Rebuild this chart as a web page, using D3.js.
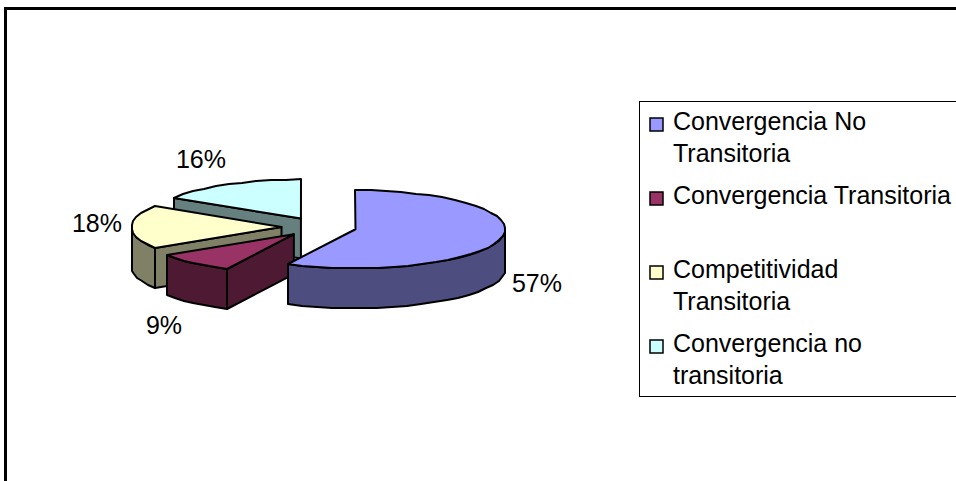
<!DOCTYPE html>
<html lang="es">
<head>
    <meta charset="UTF-8">
    <title>Convergencia</title>
    <script src="https://d3js.org/d3.v7.min.js"></script>
    <style>
        html, body { margin: 0; padding: 0; background: #fff; overflow: hidden; }
        svg { display: block; font-family: "Liberation Sans", Arial, sans-serif; }
    </style>
</head>
<body>
    <script>
        // Data
        const categories = ["Convergencia No Transitoria", "Convergencia Transitoria", "Competitividad Transitoria", "Convergencia no transitoria"];
        const values = [57.4, 8.6, 18, 16];
        const legendLines = [["Convergencia No", "Transitoria"], ["Convergencia Transitoria"], ["Competitividad", "Transitoria"], ["Convergencia no", "transitoria"]];
        const topColors = ["#9999ff", "#993366", "#ffffcc", "#ccffff"];
        const wallColors = ["#4d4d80", "#4d1933", "#808066", "#668080"];

        const width = 956, height = 481;
        const cx = 319, cy = 227, rx = 150, ry = 39, depth = 40, explode = 0.25;

        const svg = d3.select("body").append("svg")
            .attr("width", width)
            .attr("height", height);

        // Chart frame
        svg.append("rect")
            .attr("x", 5.5).attr("y", 8.5)
            .attr("width", width + 20).attr("height", height + 20)
            .attr("fill", "#fff").attr("stroke", "#000").attr("stroke-width", 3);

        const arcs = d3.pie().sort(null).value(d => d)(values);
        const total = d3.sum(values);
        const percent = d3.format(".0%");

        // Angle is clockwise from 12 o'clock, squashed into an ellipse
        const px = (c, a) => c.x + rx * Math.sin(a);
        const py = (c, a) => c.y - ry * Math.cos(a);
        const centreOf = d => {
            const mid = (d.startAngle + d.endAngle) / 2;
            return { x: cx + explode * rx * Math.sin(mid), y: cy - explode * ry * Math.cos(mid) };
        };
        const rimPoints = (c, a0, a1) => {
            const n = Math.max(1, Math.ceil(Math.abs(a1 - a0) / (Math.PI / 30)));
            return d3.range(n + 1).map(i => {
                const a = a0 + (a1 - a0) * i / n;
                return [Math.round(px(c, a)), Math.round(py(c, a))];
            });
        };
        const line = d3.line();
        const closed = pts => line(pts) + "Z";

        const pieG = svg.append("g")
            .attr("stroke", "#000").attr("stroke-width", 2).attr("stroke-linejoin", "round");

        // Back to front: cyan, yellow, maroon, then blue on top
        [3, 2, 1, 0].forEach(i => {
            const d = arcs[i], c = centreOf(d);
            const g = pieG.append("g");
            const a0 = d.startAngle, a1 = d.endAngle;

            // radial wall on the cut that faces the viewer (blue has none showing)
            if (i !== 0) {
                const ox = Math.round(px(c, a0)), oy = Math.round(py(c, a0));
                g.append("path")
                    .attr("fill", wallColors[i])
                    .attr("d", closed([[c.x, c.y], [ox, oy], [ox, oy + depth], [c.x, c.y + depth]]));
            }

            // outer wall, only the part of the rim in the lower half
            const lo = Math.max(a0, Math.PI / 2), hi = Math.min(a1, Math.PI * 3 / 2);
            if (hi > lo) {
                const rim = rimPoints(c, lo, hi);
                const low = rim.slice().reverse().map(p => [p[0], p[1] + depth]);
                g.append("path")
                    .attr("fill", wallColors[i])
                    .attr("d", closed(rim.concat(low)));
            }

            // top face
            g.append("path")
                .attr("fill", topColors[i])
                .attr("d", closed([[c.x, c.y]].concat(rimPoints(c, a0, a1))));
        });

        // Percentage labels
        const labelPos = [[537, 292], [164, 334], [97, 232], [201, 168]];
        svg.append("g")
            .attr("font-size", 25).attr("fill", "#000").attr("text-anchor", "middle")
            .selectAll("text")
            .data(values)
            .join("text")
            .attr("x", (d, i) => labelPos[i][0])
            .attr("y", (d, i) => labelPos[i][1])
            .text(d => percent(d / total));

        // Legend
        svg.append("rect")
            .attr("x", 639.5).attr("y", 101.5)
            .attr("width", 340).attr("height", 295)
            .attr("fill", "#fff").attr("stroke", "#000").attr("stroke-width", 1);

        const legendY = [130, 204, 278, 352];
        const legend = svg.append("g")
            .selectAll("g")
            .data(categories)
            .join("g")
            .attr("transform", (d, i) => `translate(0,${legendY[i]})`);

        legend.append("rect")
            .attr("x", 650).attr("y", -12)
            .attr("width", 13).attr("height", 13)
            .attr("fill", (d, i) => topColors[i])
            .attr("stroke", "#000").attr("stroke-width", 1.5);

        legend.append("text")
            .attr("font-size", 25)
            .selectAll("tspan")
            .data((d, i) => legendLines[i])
            .join("tspan")
            .attr("x", 673)
            .attr("y", (d, j) => j * 31.5)
            .text(d => d);
    </script>
</body>
</html>
